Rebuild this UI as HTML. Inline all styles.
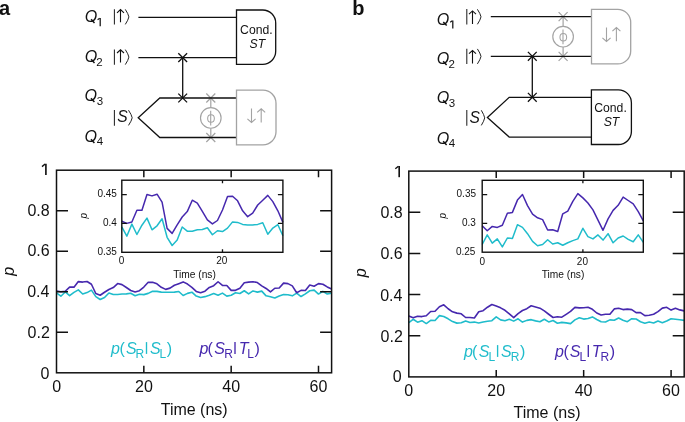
<!DOCTYPE html>
<html><head><meta charset="utf-8"><style>
html,body{margin:0;padding:0;background:#fff;overflow:hidden;}
svg{display:block;font-family:"Liberation Sans", sans-serif;will-change:transform;}
</style></head><body>
<svg width="685" height="422" viewBox="0 0 685 422" fill="#111">
<text x="-1.09" y="14.50" font-size="20" font-weight="bold">a</text>
<text x="84.63" y="22.00" font-size="16" font-style="italic">O</text><path d="M91.10,19.30L94.50,23.00" stroke="#111" stroke-width="1.45" stroke-linecap="butt"/><path d="M100.2,26.2V18.1" stroke="#111" stroke-width="1.25" fill="none"/><path d="M99.67,18.30L97.60,19.80" stroke="#111" stroke-width="1.06" fill="none"/>
<text x="84.63" y="62.00" font-size="16" font-style="italic">O</text><path d="M91.10,59.30L94.50,63.00" stroke="#111" stroke-width="1.45" stroke-linecap="butt"/><text x="96.32" y="66.00" font-size="11.5">2</text>
<text x="84.53" y="101.00" font-size="16" font-style="italic">O</text><path d="M91.00,98.30L94.40,102.00" stroke="#111" stroke-width="1.45" stroke-linecap="butt"/><text x="96.66" y="105.00" font-size="11.5">3</text>
<text x="84.53" y="142.00" font-size="16" font-style="italic">O</text><path d="M91.00,139.30L94.40,143.00" stroke="#111" stroke-width="1.45" stroke-linecap="butt"/><text x="96.74" y="145.00" font-size="11.5">4</text>
<path d="M114.4,9.2V24.6" stroke="#222" stroke-width="1.05"/><path d="M120.5,22.2V9.9M117.0,12.8L120.5,9.6L124.0,12.8" stroke="#111" stroke-width="1.1" fill="none" stroke-linejoin="miter"/><path d="M125.3,9.399999999999999Q128.3,13.899999999999999 128.9,16.9Q128.3,19.9 125.3,24.400000000000002" stroke="#222" stroke-width="1.0" fill="none"/>
<path d="M114.4,49.4V64.8" stroke="#222" stroke-width="1.05"/><path d="M120.5,62.4V50.099999999999994M117.0,53.0L120.5,49.8L124.0,53.0" stroke="#111" stroke-width="1.1" fill="none" stroke-linejoin="miter"/><path d="M125.3,49.6Q128.3,54.099999999999994 128.9,57.099999999999994Q128.3,60.099999999999994 125.3,64.6" stroke="#222" stroke-width="1.0" fill="none"/>
<path d="M210.8,98V107.60000000000001M210.8,128.20000000000002V137.5" stroke="#a3a3a3" stroke-width="1.2"/><circle cx="210.8" cy="117.9" r="10.3" fill="#fff" stroke="#a3a3a3" stroke-width="1.15"/><path d="M210.70000000000002,110.7V125.5" stroke="#a3a3a3" stroke-width="1.1"/><ellipse cx="211.0" cy="118.5" rx="3.35" ry="3.7" fill="none" stroke="#a3a3a3" stroke-width="1.05"/><path d="M206.3,93.5L215.3,102.5M206.3,102.5L215.3,93.5" stroke="#a3a3a3" stroke-width="1.2" fill="none"/><path d="M206.3,133.0L215.3,142.0M206.3,142.0L215.3,133.0" stroke="#a3a3a3" stroke-width="1.2" fill="none"/>
<path d="M138.4,17.4H236.5M138.4,57.6H236.5M182.7,57.6V98M236.5,98H159.8L138.2,117.7L159.8,137.5H236.5" stroke="#111" stroke-width="1.3" fill="none"/>
<path d="M178.29999999999998,53.2L187.1,62.0M178.29999999999998,62.0L187.1,53.2" stroke="#111" stroke-width="1.3" fill="none"/>
<path d="M178.29999999999998,93.6L187.1,102.4M178.29999999999998,102.4L187.1,93.6" stroke="#111" stroke-width="1.3" fill="none"/>
<path d="M236.5,10.0H262.7A13,13 0 0 1 275.7,23.0V51.3A13,13 0 0 1 262.7,64.3H236.5Z" fill="#fff" stroke="#111" stroke-width="1.3"/>
<text x="240.08" y="33.50" font-size="12.2">Cond.</text>
<text x="249.55" y="47.90" font-size="12.2" font-style="italic">ST</text>
<path d="M236.5,90.2H263.0A13,13 0 0 1 276.0,103.2V131.8A13,13 0 0 1 263.0,144.8H236.5Z" fill="#fff" stroke="#a3a3a3" stroke-width="1.3"/>
<path d="M251.5,108.6V122.2M247.4,118.9L251.5,122.5L255.6,118.9" stroke="#a3a3a3" stroke-width="1.1" fill="none" stroke-linejoin="miter"/>
<path d="M261.2,122.5V109.1M257.2,112.39999999999999L261.2,108.8L265.2,112.39999999999999" stroke="#a3a3a3" stroke-width="1.1" fill="none" stroke-linejoin="miter"/>
<path d="M114.4,110.1V125.7" stroke="#222" stroke-width="1.05"/>
<text x="117.16" y="122.00" font-size="15.6" font-style="italic">S</text>
<path d="M128.5,110.2Q131.6,114.80000000000001 132.2,117.80000000000001Q131.6,120.80000000000001 128.5,125.4" stroke="#222" stroke-width="1.0" fill="none"/>
<text x="352.18" y="14.50" font-size="20" font-weight="bold">b</text>
<text x="436.83" y="24.60" font-size="16" font-style="italic">O</text><path d="M443.30,21.90L446.70,25.60" stroke="#111" stroke-width="1.45" stroke-linecap="butt"/><path d="M452.8,28.5V20.5" stroke="#111" stroke-width="1.25" fill="none"/><path d="M452.28,20.70L450.20,22.20" stroke="#111" stroke-width="1.06" fill="none"/>
<text x="436.73" y="64.00" font-size="16" font-style="italic">O</text><path d="M443.20,61.30L446.60,65.00" stroke="#111" stroke-width="1.45" stroke-linecap="butt"/><text x="448.52" y="68.00" font-size="11.5">2</text>
<text x="436.73" y="103.00" font-size="16" font-style="italic">O</text><path d="M443.20,100.30L446.60,104.00" stroke="#111" stroke-width="1.45" stroke-linecap="butt"/><text x="448.66" y="107.00" font-size="11.5">3</text>
<text x="436.73" y="144.00" font-size="16" font-style="italic">O</text><path d="M443.20,141.30L446.60,145.00" stroke="#111" stroke-width="1.45" stroke-linecap="butt"/><text x="448.84" y="147.00" font-size="11.5">4</text>
<path d="M466.8,9.1V24.5" stroke="#222" stroke-width="1.05"/><path d="M472.5,24.0V11.200000000000001M469.0,14.100000000000001L472.5,10.9L476.0,14.100000000000001" stroke="#111" stroke-width="1.1" fill="none" stroke-linejoin="miter"/><path d="M477.4,9.299999999999999Q480.4,13.8 481.0,16.8Q480.4,19.8 477.4,24.3" stroke="#222" stroke-width="1.0" fill="none"/>
<path d="M466.8,48.7V64.1" stroke="#222" stroke-width="1.05"/><path d="M472.5,63.6V50.8M469.0,53.7L472.5,50.5L476.0,53.7" stroke="#111" stroke-width="1.1" fill="none" stroke-linejoin="miter"/><path d="M477.4,48.900000000000006Q480.4,53.4 481.0,56.4Q480.4,59.4 477.4,63.89999999999999" stroke="#222" stroke-width="1.0" fill="none"/>
<path d="M563.1,16.7V26.349999999999998M563.1,46.95V56.3" stroke="#a3a3a3" stroke-width="1.2"/><circle cx="563.1" cy="36.65" r="10.3" fill="#fff" stroke="#a3a3a3" stroke-width="1.15"/><path d="M563.0,29.45V44.25" stroke="#a3a3a3" stroke-width="1.1"/><ellipse cx="563.3000000000001" cy="37.25" rx="3.35" ry="3.7" fill="none" stroke="#a3a3a3" stroke-width="1.05"/><path d="M558.6,12.2L567.6,21.2M558.6,21.2L567.6,12.2" stroke="#a3a3a3" stroke-width="1.2" fill="none"/><path d="M558.6,51.8L567.6,60.8M558.6,60.8L567.6,51.8" stroke="#a3a3a3" stroke-width="1.2" fill="none"/>
<path d="M490.8,16.7H591.5M490.8,56.3H591.5M532.3,56.3V97.3M591.5,97.3H509.2L487.4,117.4L509.2,137.1H591.5" stroke="#111" stroke-width="1.3" fill="none"/>
<path d="M527.9,51.9L536.6999999999999,60.699999999999996M527.9,60.699999999999996L536.6999999999999,51.9" stroke="#111" stroke-width="1.3" fill="none"/>
<path d="M527.9,92.89999999999999L536.6999999999999,101.7M527.9,101.7L536.6999999999999,92.89999999999999" stroke="#111" stroke-width="1.3" fill="none"/>
<path d="M591.4,89.8H618.4A13,13 0 0 1 631.4,102.8V131.5A13,13 0 0 1 618.4,144.5H591.4Z" fill="#fff" stroke="#111" stroke-width="1.3"/>
<text x="594.28" y="111.60" font-size="12.2">Cond.</text>
<text x="603.65" y="126.00" font-size="12.2" font-style="italic">ST</text>
<path d="M591.5,9.3H617.7A13,13 0 0 1 630.7,22.3V50.900000000000006A13,13 0 0 1 617.7,63.900000000000006H591.5Z" fill="#fff" stroke="#a3a3a3" stroke-width="1.3"/>
<path d="M606.5,27.6V41.1M602.4,37.8L606.5,41.4L610.6,37.8" stroke="#a3a3a3" stroke-width="1.1" fill="none" stroke-linejoin="miter"/>
<path d="M616.4,41.2V27.900000000000002M612.4,31.200000000000003L616.4,27.6L620.4,31.200000000000003" stroke="#a3a3a3" stroke-width="1.1" fill="none" stroke-linejoin="miter"/>
<path d="M466.8,110.1V125.7" stroke="#222" stroke-width="1.05"/>
<text x="469.46" y="122.60" font-size="15.6" font-style="italic">S</text>
<path d="M481.3,110.3Q484.09999999999997,114.85 484.7,117.85Q484.09999999999997,120.85 481.3,125.4" stroke="#222" stroke-width="1.0" fill="none"/>
<polyline fill="none" stroke="#1fbccb" stroke-width="1.6" stroke-linejoin="round" points="56.50,292.97 60.87,296.23 65.23,291.98 69.60,295.64 73.97,292.37 78.33,289.88 82.70,293.99 87.07,292.58 91.43,290.11 95.80,296.62 100.17,299.50 104.53,297.57 108.90,293.00 113.27,294.48 117.63,294.48 122.00,293.99 126.37,293.88 130.73,293.25 135.10,295.73 139.47,294.32 143.83,294.62 148.20,293.39 152.57,291.21 156.93,291.39 161.30,292.09 165.67,292.30 170.03,292.30 174.40,292.09 178.77,291.53 183.13,295.53 187.50,293.39 191.87,292.20 196.23,296.09 200.60,297.44 204.97,296.64 209.33,295.24 213.70,293.54 218.07,295.24 222.43,293.14 226.80,296.14 231.17,295.24 235.53,292.74 239.90,293.54 244.27,290.74 248.63,293.94 253.00,290.94 257.37,292.14 261.73,291.14 266.10,295.84 270.47,296.84 274.83,298.04 279.20,296.04 283.57,294.54 287.93,294.74 292.30,295.84 296.67,293.14 301.03,296.54 305.40,293.84 309.77,290.74 314.13,290.14 318.50,294.04 322.87,291.34 327.23,293.94 331.60,293.14"/>
<polyline fill="none" stroke="#4628ae" stroke-width="1.6" stroke-linejoin="round" points="56.50,291.00 60.87,291.74 65.23,291.25 69.60,287.14 73.97,287.14 78.33,281.59 82.70,282.08 87.07,281.48 91.43,284.26 95.80,293.50 100.17,295.25 104.53,292.23 108.90,289.49 113.27,287.59 117.63,283.59 122.00,284.61 126.37,287.49 130.73,290.51 135.10,291.91 139.47,290.72 143.83,287.03 148.20,282.33 152.57,282.18 156.93,283.80 161.30,287.31 165.67,289.39 170.03,288.12 174.40,285.28 178.77,283.63 183.13,281.90 187.50,284.08 191.87,287.31 196.23,291.39 200.60,292.74 204.97,291.14 209.33,287.44 213.70,285.64 218.07,281.74 222.43,285.44 226.80,285.54 231.17,290.34 235.53,290.34 239.90,288.24 244.27,282.74 248.63,282.14 253.00,281.74 257.37,282.54 261.73,285.84 266.10,288.44 270.47,291.94 274.83,288.24 279.20,288.04 283.57,283.14 287.93,283.64 292.30,285.84 296.67,292.74 301.03,290.39 305.40,290.54 309.77,285.04 314.13,286.29 318.50,283.59 322.87,284.24 327.23,286.94 331.60,289.04"/>
<rect x="56.5" y="170.2" width="275.10" height="202.60" fill="none" stroke="#111" stroke-width="1.5"/>
<path d="M56.5,332.28h11.5M331.6,332.28h-11.5M56.5,291.76h11.5M331.6,291.76h-11.5M56.5,251.24h11.5M331.6,251.24h-11.5M56.5,210.72h11.5M331.6,210.72h-11.5M143.83,372.8v-7M143.83,170.2v7M231.17,372.8v-7M231.17,170.2v7M318.50,372.8v-7M318.50,170.2v7" stroke="#111" stroke-width="1.5" fill="none"/>
<path d="M45.9,175.0V163.8" stroke="#111" stroke-width="1.65" fill="none"/><path d="M45.17,164.00L42.00,166.60" stroke="#111" stroke-width="1.40" fill="none"/>
<text x="49.70" y="215.90" font-size="16" text-anchor="end">0.8</text>
<text x="49.70" y="256.40" font-size="16" text-anchor="end">0.6</text>
<text x="49.47" y="297.00" font-size="16" text-anchor="end">0.4</text>
<text x="49.80" y="337.50" font-size="16" text-anchor="end">0.2</text>
<text x="49.52" y="378.60" font-size="16" text-anchor="end">0</text>
<text x="56.60" y="391.60" font-size="16" text-anchor="middle">0</text>
<text x="143.90" y="391.60" font-size="16" text-anchor="middle">20</text>
<text x="231.20" y="391.60" font-size="16" text-anchor="middle">40</text>
<text x="318.50" y="391.60" font-size="16" text-anchor="middle">60</text>
<text x="194.20" y="414.50" font-size="16" text-anchor="middle">Time (ns)</text>
<text transform="translate(14.00,271.30) rotate(-90)" text-anchor="middle" font-size="16" font-style="italic">p</text>
<rect x="121.8" y="180.2" width="161.10" height="72.10" fill="#fff"/>
<polyline fill="none" stroke="#1fbccb" stroke-width="1.5" stroke-linejoin="round" points="121.80,226.90 126.83,236.20 131.87,224.10 136.90,234.50 141.94,225.20 146.97,218.10 152.01,229.80 157.04,225.80 162.07,218.75 167.11,237.30 172.14,245.50 177.18,240.00 182.21,227.00 187.25,231.20 192.28,231.20 197.32,229.80 202.35,229.50 207.38,227.70 212.42,234.75 217.45,230.75 222.49,231.60 227.52,228.10 232.56,221.90 237.59,222.40 242.62,224.40 247.66,225.00 252.69,225.00 257.73,224.40 262.76,222.80 267.80,234.20 272.83,228.10 277.87,224.70 282.90,235.80"/>
<polyline fill="none" stroke="#4628ae" stroke-width="1.5" stroke-linejoin="round" points="121.80,221.30 126.83,223.40 131.87,222.00 136.90,210.30 141.94,210.30 146.97,194.50 152.01,195.90 157.04,194.20 162.07,202.10 167.11,228.40 172.14,233.40 177.18,224.80 182.21,217.00 187.25,211.60 192.28,200.20 197.32,203.10 202.35,211.30 207.38,219.90 212.42,223.90 217.45,220.50 222.49,210.00 227.52,196.60 232.56,196.20 237.59,200.80 242.62,210.80 247.66,216.70 252.69,213.10 257.73,205.00 262.76,200.30 267.80,195.40 272.83,201.60 277.87,210.80 282.90,222.40"/>
<rect x="121.8" y="180.2" width="161.10" height="72.10" fill="none" stroke="#111" stroke-width="1.4"/>
<path d="M121.8,223.46h5M282.9,223.46h-5M121.8,194.62h5M282.9,194.62h-5M222.49,252.3v-3M222.49,180.2v3" stroke="#111" stroke-width="1.3" fill="none"/>
<text x="116.92" y="196.80" font-size="10" text-anchor="end">0.45</text>
<text x="116.79" y="225.60" font-size="10" text-anchor="end">0.4</text>
<text x="116.92" y="254.50" font-size="10" text-anchor="end">0.35</text>
<text x="121.50" y="264.10" font-size="10" text-anchor="middle">0</text>
<text x="221.70" y="264.00" font-size="10" text-anchor="middle">20</text>
<text x="173.17" y="278.00" font-size="10.2">Time (ns)</text>
<text transform="translate(86.90,215.80) rotate(-90)" text-anchor="middle" font-size="10" font-style="italic">p</text>
<polyline fill="none" stroke="#1fbccb" stroke-width="1.6" stroke-linejoin="round" points="408.80,322.70 413.17,319.26 417.54,322.19 421.91,320.69 426.29,323.55 430.66,320.37 435.03,320.51 439.40,315.61 443.77,316.58 448.14,318.83 452.51,321.59 456.89,323.12 461.26,322.70 465.63,320.98 470.00,322.52 474.37,322.09 478.74,322.95 483.11,322.09 487.49,321.30 491.86,320.69 496.23,316.90 500.60,319.87 504.97,320.69 509.34,319.26 513.71,321.12 518.09,318.83 522.46,322.09 526.83,320.37 531.20,319.65 535.57,320.87 539.94,321.73 544.31,319.26 548.69,321.91 553.06,320.50 557.43,323.20 561.80,322.40 566.17,322.90 570.54,323.60 574.91,319.90 579.29,317.70 583.66,319.10 588.03,318.50 592.40,316.90 596.77,319.50 601.14,321.80 605.51,322.00 609.89,319.90 614.26,320.20 618.63,317.95 623.00,320.20 627.37,321.70 631.74,318.70 636.11,319.00 640.49,321.70 644.86,323.20 649.23,322.00 653.60,323.00 657.97,321.00 662.34,322.70 666.71,321.00 671.09,318.70 675.46,319.20 679.83,319.70 684.20,320.40"/>
<polyline fill="none" stroke="#4628ae" stroke-width="1.6" stroke-linejoin="round" points="408.80,315.97 413.17,317.79 417.54,316.22 421.91,316.58 426.29,315.79 430.66,311.53 435.03,311.21 439.40,306.81 443.77,304.81 448.14,308.78 452.51,311.82 456.89,313.14 461.26,313.79 465.63,317.51 470.00,317.44 474.37,318.04 478.74,311.71 483.11,310.74 487.49,307.24 491.86,304.48 496.23,306.02 500.60,307.85 504.97,310.32 509.34,313.96 513.71,317.61 518.09,313.54 522.46,310.49 526.83,308.67 531.20,305.74 535.57,306.95 539.94,308.17 544.31,310.92 548.69,314.25 553.06,317.50 557.43,316.70 561.80,317.20 566.17,314.30 570.54,311.40 574.91,307.40 579.29,307.90 583.66,307.70 588.03,307.30 592.40,309.30 596.77,313.00 601.14,315.00 605.51,314.20 609.89,314.20 614.26,308.90 618.63,308.25 623.00,309.60 627.37,309.10 631.74,309.60 636.11,312.60 640.49,312.60 644.86,315.60 649.23,315.30 653.60,314.30 657.97,311.60 662.34,308.10 666.71,307.30 671.09,310.10 675.46,308.30 679.83,309.90 684.20,310.90"/>
<rect x="408.8" y="171.1" width="275.40" height="205.80" fill="none" stroke="#111" stroke-width="1.5"/>
<path d="M408.8,335.74h11.5M684.2,335.74h-11.5M408.8,294.58h11.5M684.2,294.58h-11.5M408.8,253.42h11.5M684.2,253.42h-11.5M408.8,212.26h11.5M684.2,212.26h-11.5M496.23,376.9v-7M496.23,171.1v7M583.66,376.9v-7M583.66,171.1v7M671.09,376.9v-7M671.09,171.1v7" stroke="#111" stroke-width="1.5" fill="none"/>
<path d="M399.2,177.2V166.0" stroke="#111" stroke-width="1.65" fill="none"/><path d="M398.48,166.20L395.30,168.80" stroke="#111" stroke-width="1.40" fill="none"/>
<text x="402.70" y="218.30" font-size="16" text-anchor="end">0.8</text>
<text x="402.70" y="259.40" font-size="16" text-anchor="end">0.6</text>
<text x="402.47" y="300.60" font-size="16" text-anchor="end">0.4</text>
<text x="402.80" y="341.70" font-size="16" text-anchor="end">0.2</text>
<text x="401.62" y="382.40" font-size="16" text-anchor="end">0</text>
<text x="408.80" y="395.60" font-size="16" text-anchor="middle">0</text>
<text x="496.20" y="395.60" font-size="16" text-anchor="middle">20</text>
<text x="583.60" y="395.60" font-size="16" text-anchor="middle">40</text>
<text x="671.00" y="395.60" font-size="16" text-anchor="middle">60</text>
<text x="547.00" y="418.40" font-size="16" text-anchor="middle">Time (ns)</text>
<text transform="translate(366.30,272.80) rotate(-90)" text-anchor="middle" font-size="16" font-style="italic">p</text>
<rect x="482.2" y="180.3" width="161.10" height="71.90" fill="#fff"/>
<polyline fill="none" stroke="#1fbccb" stroke-width="1.5" stroke-linejoin="round" points="482.20,244.50 487.23,234.90 492.27,243.10 497.30,238.90 502.34,246.90 507.37,238.00 512.41,238.40 517.44,224.70 522.48,227.40 527.51,233.70 532.54,241.40 537.58,245.70 542.61,244.50 547.65,239.70 552.68,244.00 557.72,242.80 562.75,245.20 567.78,242.80 572.82,240.60 577.85,238.90 582.89,228.30 587.92,236.60 592.96,238.90 597.99,234.90 603.02,240.10 608.06,233.70 613.09,242.80 618.13,238.00 623.16,236.00 628.20,239.40 633.23,241.80 638.27,234.90 643.30,242.30"/>
<polyline fill="none" stroke="#4628ae" stroke-width="1.5" stroke-linejoin="round" points="482.20,225.70 487.23,230.80 492.27,226.40 497.30,227.40 502.34,225.20 507.37,213.30 512.41,212.40 517.44,200.10 522.48,194.50 527.51,205.60 532.54,214.10 537.58,217.80 542.61,219.60 547.65,230.00 552.68,229.80 557.72,231.50 562.75,213.80 567.78,211.10 572.82,201.30 577.85,193.60 582.89,197.90 587.92,203.00 592.96,209.90 597.99,220.10 603.02,230.30 608.06,218.90 613.09,210.40 618.13,205.30 623.16,197.10 628.20,200.50 633.23,203.90 638.27,211.60 643.30,220.90"/>
<rect x="482.2" y="180.3" width="161.10" height="71.90" fill="none" stroke="#111" stroke-width="1.4"/>
<path d="M482.2,223.44h5M643.3,223.44h-5M482.2,194.68h5M643.3,194.68h-5M582.89,252.2v-3M582.89,180.3v3" stroke="#111" stroke-width="1.3" fill="none"/>
<text x="476.02" y="197.40" font-size="10" text-anchor="end">0.35</text>
<text x="475.84" y="226.40" font-size="10" text-anchor="end">0.3</text>
<text x="475.42" y="255.00" font-size="10" text-anchor="end">0.25</text>
<text x="482.20" y="264.80" font-size="10" text-anchor="middle">0</text>
<text x="582.40" y="264.80" font-size="10" text-anchor="middle">20</text>
<text x="541.67" y="278.00" font-size="10.2">Time (ns)</text>
<text transform="translate(446.20,215.80) rotate(-90)" text-anchor="middle" font-size="10" font-style="italic">p</text>
<g fill="#1fbccb"><text x="110.90" y="353.90" font-size="16" font-style="italic">p</text><text x="119.41" y="353.90" font-size="16">(</text><text x="125.95" y="353.90" font-size="16" font-style="italic">S</text><text x="135.62" y="357.70" font-size="12">R</text><path d="M146.5,342.10V353.9" stroke="#1fbccb" stroke-width="1.35"/><text x="149.95" y="353.90" font-size="16" font-style="italic">S</text><text x="159.62" y="357.70" font-size="12">L</text><text x="166.71" y="353.90" font-size="16">)</text></g>
<g fill="#4628ae"><text x="199.50" y="353.90" font-size="16" font-style="italic">p</text><text x="207.51" y="353.90" font-size="16">(</text><text x="214.35" y="353.90" font-size="16" font-style="italic">S</text><text x="224.22" y="357.70" font-size="12">R</text><path d="M235.0,342.10V353.9" stroke="#4628ae" stroke-width="1.35"/><text x="238.66" y="353.90" font-size="16" font-style="italic">T</text><text x="247.32" y="357.70" font-size="12">L</text><text x="254.41" y="353.90" font-size="16">)</text></g>
<g fill="#1fbccb"><text x="463.90" y="356.90" font-size="16" font-style="italic">p</text><text x="472.11" y="356.90" font-size="16">(</text><text x="478.85" y="356.90" font-size="16" font-style="italic">S</text><text x="488.52" y="360.60" font-size="12">L</text><path d="M497.6,345.10V356.9" stroke="#1fbccb" stroke-width="1.35"/><text x="500.95" y="356.90" font-size="16" font-style="italic">S</text><text x="510.72" y="360.60" font-size="12">R</text><text x="519.91" y="356.90" font-size="16">)</text></g>
<g fill="#4628ae"><text x="555.00" y="356.90" font-size="16" font-style="italic">p</text><text x="563.41" y="356.90" font-size="16">(</text><text x="569.75" y="356.90" font-size="16" font-style="italic">S</text><text x="579.42" y="360.60" font-size="12">L</text><path d="M588.3,345.10V356.9" stroke="#4628ae" stroke-width="1.35"/><text x="591.76" y="356.90" font-size="16" font-style="italic">T</text><text x="600.42" y="360.60" font-size="12">R</text><text x="609.71" y="356.90" font-size="16">)</text></g>
</svg>
</body></html>
